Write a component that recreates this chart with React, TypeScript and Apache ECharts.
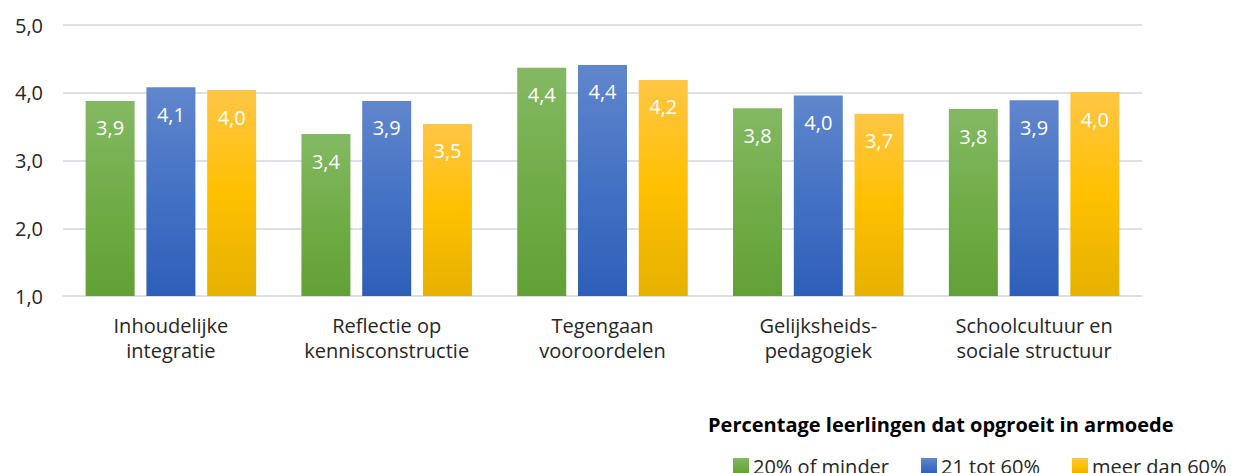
import React, { useEffect, useRef } from "react";
import * as echarts from "echarts";

const categories = [
  "Inhoudelijke\nintegratie",
  "Reflectie op\nkennisconstructie",
  "Tegengaan\nvooroordelen",
  "Gelijksheids-\npedagogiek",
  "Schoolcultuur en\nsociale structuur",
];
const seriesNames = ["20% of minder", "21 tot 60%", "meer dan 60%"];
const low = [3.88, 3.39, 4.37, 3.77, 3.76];
const mid = [4.08, 3.88, 4.41, 3.96, 3.89];
const high = [4.04, 3.54, 4.19, 3.69, 4.01];
const yTicks = [1, 2, 3, 4, 5];
const legendTitle = "Percentage leerlingen dat opgroeit in armoede";

const FONT = "'Open Sans', 'Noto Sans', sans-serif";
const FS = 20;

const grad = (top: string, midc: string, bottom: string) =>
  new echarts.graphic.LinearGradient(0, 0, 0, 1, [
    { offset: 0, color: top },
    { offset: 0.5, color: midc },
    { offset: 1, color: bottom },
  ]);

const fmt = (v: number) => v.toFixed(1).replace(".", ",");

export default function App() {
  const ref = useRef<HTMLDivElement>(null);
  useEffect(() => {
    document.body.style.margin = "0";
    const chart = echarts.init(ref.current!, undefined, { renderer: "svg" });
    const colors = [
      grad("#84b964", "#70ad47", "#62a136"),
      grad("#6186cc", "#4472c4", "#2e5fb8"),
      grad("#ffc646", "#ffc000", "#e6b100"),
    ];
    const datas = [low, mid, high];
    chart.setOption({
      animation: false,
      textStyle: { fontFamily: FONT },
      grid: { left: 63, right: 94, top: 25, bottom: 177, containLabel: false },
      title: {
        text: legendTitle,
        left: 703,
        top: 409,
        textStyle: { fontFamily: FONT, fontSize: FS, fontWeight: "bold", color: "#000" },
      },
      legend: {
        left: 728,
        top: 451,
        itemWidth: 16,
        itemHeight: 16,
        itemGap: 32,
        icon: "rect",
        textStyle: { fontFamily: FONT, fontSize: FS, color: "#262626", padding: [0, 0, 0, -1] },
        data: seriesNames.map((n, i) => ({ name: n, itemStyle: { color: colors[i] } })),
      },
      xAxis: {
        type: "category",
        data: categories,
        axisLine: { lineStyle: { color: "#dde1e6", width: 2 } },
        axisTick: { show: false },
        axisLabel: {
          fontFamily: FONT,
          fontSize: FS,
          color: "#262626",
          lineHeight: 25,
          margin: 17,
          interval: 0,
        },
      },
      yAxis: {
        type: "value",
        min: yTicks[0],
        max: yTicks[yTicks.length - 1],
        interval: 1,
        axisLine: { show: false },
        axisTick: { show: false },
        splitLine: { lineStyle: { color: "#dde1e6", width: 2 } },
        axisLabel: {
          fontFamily: FONT,
          fontSize: FS,
          color: "#262626",
          margin: 20,
          formatter: (v: number) => fmt(v),
        },
      },
      series: datas.map((d, i) => ({
        type: "bar",
        name: seriesNames[i],
        data: d,
        barWidth: 49,
        barGap: "24%",
        itemStyle: { color: colors[i] },
        label: {
          show: true,
          position: "insideTop",
          distance: 17,
          fontFamily: FONT,
          fontSize: FS,
          color: "#fff",
          formatter: (p: any) => fmt(p.value),
        },
      })),
    });
    return () => chart.dispose();
  }, []);
  return <div ref={ref} style={{ width: 1236, height: 473 }} />;
}
